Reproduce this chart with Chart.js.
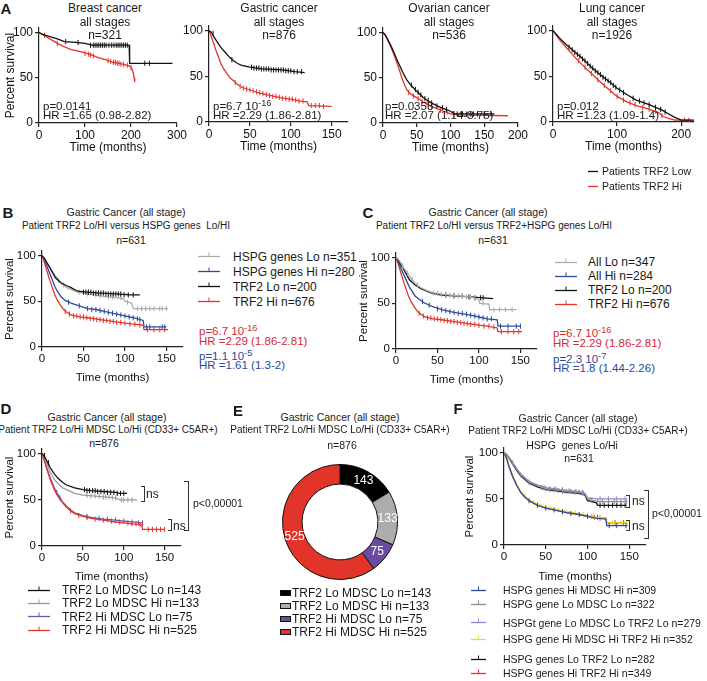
<!DOCTYPE html>
<html>
<head>
<title>TRF2 survival figure</title>
<script src="https://cdn.jsdelivr.net/npm/chart.js"></script>
<style>
  body { margin: 0; background: #fff; font-family: "Liberation Sans", Arial, sans-serif; color: #1a1a1a; }
  #fig { position: relative; width: 707px; height: 681px; overflow: hidden; }
  #fig canvas { position: absolute; }
  .t { position: absolute; white-space: nowrap; font-size: 11px; line-height: 1; }
  .c { transform: translate(-50%, -50%); text-align: center; }
  .l { transform: translateY(-50%); }
  .big { font-weight: bold; font-size: 15px; }
  .red { color: #d42a33; }
  .blue { color: #2b4a9b; }
  .br { position: absolute; border: 1.2px solid #333; border-left: none; box-sizing: border-box; }
  sup { font-size: 80%; vertical-align: 4px; line-height: 0; }
</style>
</head>
<body>
<div id="fig"></div>

<script>
// ---------- data ----------
// A: breast
const brLo  = [[0,100],[8,98],[20,96],[40,93],[55,90],[80,89],[100,88],[115,86],[196,86],[197,66],[290,66]];
const brLoC = [[58,90],[85,89],[112,86],[118,86],[122,86],[126,86],[130,86],[134,86],[138,86],[142,86],[146,86],[152,86],[158,86],[163,86],[168,86],[172,86],[176,86],[180,86],[184,86],[188,86],[192,86],[230,66],[240,66]];
const brHi  = [[0,100],[10,97],[17,95],[30,91],[40,88],[52,85],[70,81],[90,79],[110,76],[130,72],[145,70],[160,67],[175,66],[190,64],[198,63],[202,60],[205,55],[207,50],[208,45]];
const brHiC = [[12,97],[40,88],[100,77],[108,76],[112,75],[118,74],[150,69],[156,68],[162,67],[166,67],[170,66],[174,66],[178,65],[184,65],[192,64],[200,61]];
// A: gastric
const gaLo  = [[0,100],[3,98],[6,93],[9,89],[12,85],[15,81],[20,76],[25,71],[30,67],[35,64],[40,62],[50,60],[65,58],[90,57],[105,55],[117,54]];
const gaLoC = [[5,97],[28,68],[52,60],[55,59],[58,59],[61,59],[64,58],[67,58],[70,58],[73,58],[76,57],[79,57],[82,57],[85,57],[88,57],[91,57],[94,56],[97,56],[100,56],[104,55],[108,55],[113,55]];
const gaHi  = [[0,100],[3,93],[6,85],[9,77],[12,70],[15,63],[18,58],[22,53],[26,48],[30,45],[35,41],[40,38],[50,35],[60,32],[70,30],[80,28],[90,26],[100,25],[110,23],[120,22],[122,18],[150,17]];
const gaHiC = [[32,43],[38,39],[42,37],[46,36],[50,35],[54,34],[58,33],[62,32],[66,31],[70,30],[74,29],[78,28],[82,28],[86,27],[90,26],[94,26],[98,25],[102,25],[106,24],[110,23],[115,23],[125,18],[130,18],[135,18],[140,17]];
// A: ovarian
const ovLo  = [[0,100],[3,98],[6,94],[10,88],[15,80],[20,71],[25,63],[30,55],[35,48],[40,43],[45,39],[50,35],[60,28],[70,23],[80,19],[90,16],[100,13],[106,10],[165,10]];
const ovLoC = [[42,42],[48,37],[52,34],[56,31],[62,27],[67,25],[72,22],[80,19],[88,17],[94,15],[110,10],[118,10],[124,10],[130,10],[134,10],[140,10],[150,10],[160,10]];
const ovHi  = [[0,100],[3,97],[6,93],[10,87],[15,78],[20,68],[25,57],[28,50],[32,42],[36,36],[40,33],[45,30],[50,28],[60,23],[70,19],[80,16],[90,13],[100,10],[110,9],[185,8]];
const ovHiC = [[38,34],[45,30],[52,27],[58,24],[65,21],[72,18],[85,14],[95,12],[105,9],[125,9],[150,8]];
// A: lung
const luLo  = [[0,100],[5,96],[10,92],[20,85],[30,79],[45,70],[60,60],[75,51],[90,43],[100,37],[115,30],[130,24],[150,19],[170,13],[180,9],[190,5],[200,2],[220,2]];
const luLoC = [[25,82],[30,79],[34,76],[38,74],[42,72],[46,69],[50,67],[54,64],[58,61],[62,59],[66,56],[70,54],[74,52],[78,49],[82,47],[86,45],[90,43],[94,40],[98,38],[104,35],[110,32],[125,26],[135,23],[142,21],[150,19],[160,16],[168,14],[175,11]];
const luHi  = [[0,100],[5,95],[10,90],[20,82],[30,74],[45,63],[60,53],[75,43],[90,34],[100,28],[115,22],[130,18],[150,14],[165,10],[172,6],[180,4],[190,2],[215,2]];
const luHiC = [[40,67],[50,60],[60,53],[70,46],[80,40],[90,34],[100,28],[110,24],[120,21],[128,19],[140,16],[150,14],[160,12],[170,7],[205,2],[212,2]];

// B
const bGrey  = [[0,100],[3,97],[6,92],[10,86],[16,78],[23,70],[30,65],[35,63],[43,60],[55,58],[75,55],[90,54],[98,53],[100,50],[108,48],[110,42],[152,42]];
const bGreyC = [[20,73],[26,68],[45,60],[55,58],[65,57],[70,56],[80,55],[85,55],[95,54],[103,49],[115,42],[120,42],[125,42],[130,42],[135,42],[142,42],[145,42],[150,42]];
const bBlue  = [[0,100],[3,95],[6,88],[10,79],[16,65],[20,59],[23,55],[28,51],[35,48],[45,45],[55,42],[65,41],[75,39],[90,36],[100,34],[110,32],[122,29],[123,22],[150,22]];
const bBlueC = [[32,49],[45,45],[55,42],[60,41],[65,41],[70,40],[75,39],[80,38],[85,37],[90,36],[95,35],[100,34],[105,33],[110,32],[115,31],[118,30],[126,22],[130,22],[145,22],[148,22]];
const bBlack  = [[0,100],[3,97],[6,92],[10,86],[16,76],[23,70],[30,67],[35,65],[43,61],[55,60],[70,59],[90,58],[105,57],[118,57]];
const bBlackC = [[50,60],[53,60],[56,60],[59,60],[62,59],[65,59],[68,59],[71,59],[74,59],[77,58],[80,58],[83,58],[86,58],[89,58],[92,58],[95,58],[99,57],[104,57],[110,57]];
const bRed  = [[0,100],[3,92],[6,83],[9,74],[12,66],[15,58],[18,52],[22,46],[26,41],[30,38],[35,35],[45,33],[55,32],[70,30],[85,28],[100,26],[110,25],[122,24],[123,19],[152,19]];
const bRedC = [[28,39],[33,36],[38,34],[42,34],[46,33],[50,33],[54,32],[58,31],[62,31],[66,30],[70,30],[74,29],[78,29],[82,28],[86,28],[90,27],[95,27],[100,26],[106,25],[112,25],[118,24],[127,19],[135,19],[142,19],[148,19]];

// C
const cGrey  = [[0,100],[3,98],[6,94],[10,88],[16,80],[23,72],[30,67],[35,65],[43,62],[55,60],[75,58],[90,57],[100,54],[101,50],[112,49],[113,43],[145,43]];
const cGreyC = [[8,91],[14,83],[20,76],[26,70],[45,61],[50,61],[55,60],[60,60],[65,59],[70,59],[75,58],[80,58],[85,57],[90,57],[95,56],[105,50],[118,43],[125,43],[132,43],[140,43]];
const cBlue  = [[0,100],[3,95],[6,88],[10,80],[16,68],[23,58],[30,53],[35,50],[45,46],[55,43],[70,40],[90,37],[100,35],[110,33],[122,32],[123,25],[150,25]];
const cBlueC = [[32,52],[40,48],[50,44],[55,43],[60,42],[65,41],[70,40],[75,39],[80,39],[85,38],[90,37],[95,36],[100,35],[105,34],[110,33],[115,33],[126,25],[135,25],[145,25],[150,25]];
const cBlack  = [[0,100],[3,97],[6,92],[10,86],[16,76],[23,70],[30,66],[35,64],[43,61],[55,59],[70,58],[90,57],[105,56],[117,55]];
const cBlackC = [[60,59],[70,58],[80,58],[88,57],[95,56],[102,56],[105,56]];
const cRed  = [[0,100],[3,92],[6,83],[9,74],[12,66],[15,58],[18,52],[22,46],[26,41],[30,38],[35,35],[45,33],[55,32],[70,30],[85,28],[100,26],[110,25],[122,23],[123,19],[152,19]];
const cRedC = [[28,39],[33,36],[38,34],[42,34],[46,33],[50,33],[54,32],[58,31],[62,31],[66,30],[70,30],[74,29],[78,29],[82,28],[86,28],[90,27],[95,27],[100,26],[106,25],[112,25],[118,24],[127,19],[135,19],[142,19],[148,19]];

// D
const dBlack  = [[0,100],[3,97],[6,92],[10,85],[15,78],[20,73],[25,69],[30,66],[40,63],[50,61],[60,60],[75,59],[90,58],[95,57],[104,57]];
const dBlackC = [[3,98],[8,90],[52,61],[55,60],[58,60],[62,60],[65,60],[68,59],[72,59],[76,59],[80,58],[84,58],[88,58],[92,57],[96,57],[100,57]];
const dGrey  = [[0,100],[3,96],[6,89],[10,80],[15,72],[20,67],[25,63],[30,61],[40,57],[50,55],[65,54],[80,53],[90,52],[95,50],[116,50]];
const dGreyC = [[55,55],[60,54],[65,54],[70,54],[75,53],[78,53],[82,53],[86,52],[90,52],[97,50],[100,50],[105,50],[110,50]];
const dPurp  = [[0,100],[3,93],[6,84],[10,74],[15,63],[20,55],[25,48],[30,43],[35,39],[40,36],[50,33],[60,31],[75,29],[90,28],[100,27],[123,25]];
const dPurpC = [[18,58],[22,52],[55,32],[70,30],[80,29],[90,28],[100,27],[110,26],[118,25],[123,25]];
const dRed  = [[0,100],[3,92],[6,83],[10,72],[15,61],[20,53],[25,47],[30,42],[35,38],[40,35],[50,32],[60,30],[75,28],[90,26],[100,25],[110,24],[122,23],[123,18],[150,18]];
const dRedC = [[35,38],[45,33],[55,31],[65,29],[75,28],[85,27],[95,26],[105,25],[110,24],[115,24],[120,23],[130,18],[135,18],[140,18],[145,18],[150,18]];

// E (doughnut)
const eLabels = ['TRF2 Lo MDSC Lo n=143', 'TRF2 Lo MDSC Hi n=133', 'TRF2 Hi MDSC Lo n=75', 'TRF2 Hi MDSC Hi n=525'];
const eValues = [143, 133, 75, 525];

// F
const fBlue  = [[0,100],[3,94],[6,85],[10,75],[15,65],[20,57],[25,52],[30,48],[40,43],[50,40],[60,38],[75,35],[90,33],[100,31],[110,29],[122,28],[123,21],[148,21]];
const fBlueC = [[30,48],[40,43],[50,40],[60,38],[70,36],[80,34],[90,33],[100,31],[126,21],[135,21],[146,21]];
const fGrey  = [[0,100],[3,98],[6,94],[10,89],[15,82],[20,76],[25,72],[30,68],[40,64],[50,61],[60,60],[75,58],[90,57],[97,55],[100,50],[112,47],[147,47]];
const fGreyC = [[10,89],[20,76],[30,68],[45,62],[50,61],[55,60],[60,60],[65,59],[70,58],[75,58],[80,58],[85,57],[90,57],[95,56],[104,49],[112,47],[118,47],[125,47],[132,47],[140,47],[147,47]];
const fPurp  = [[0,100],[3,98],[6,95],[10,90],[15,83],[20,77],[25,73],[30,69],[40,65],[50,62],[60,61],[75,59],[90,58],[97,56],[100,51],[112,50],[147,50]];
const fPurpC = [[48,62],[55,61],[62,61],[70,60],[78,59],[86,58],[94,57],[115,50],[125,50],[135,50],[145,50]];
const fYel  = [[0,100],[3,95],[6,86],[10,76],[15,66],[20,58],[25,53],[30,49],[40,44],[50,41],[60,39],[75,36],[90,34],[100,32],[110,30],[122,29],[123,24],[147,24]];
const fYelC = [[25,53],[35,46],[45,42],[55,40],[65,38],[75,36],[85,35],[95,33],[105,31],[115,30],[130,24],[140,24],[147,24]];
const fBlack  = [[0,100],[3,98],[6,94],[10,88],[15,81],[20,75],[25,71],[30,67],[40,63],[50,60],[60,59],[75,57],[90,56],[97,54],[100,48],[110,46],[112,43],[147,43]];
const fBlackC = [[115,43],[120,43],[125,43],[130,43],[135,43],[140,43],[145,43]];
const fRed  = [[0,100],[3,94],[6,85],[10,75],[15,65],[20,57],[25,52],[30,48],[40,43],[50,40],[60,38],[75,35],[90,33],[100,31],[110,30],[122,29],[123,24],[147,24]];
const fRedC = [[105,31],[108,30],[112,30],[115,29],[133,24],[143,24]];

const RED = '#e3342a', BLACK = '#111', LGREY = '#acacac', BLUE = '#2c4b9c',
      PURP = '#6d55a6', GREY = '#8c8c8c', LPURP = '#9c86d2', YEL = '#eedc2a';
const FAM = '"Liberation Sans", Arial, sans-serif';
const fig = document.getElementById('fig');

function put(x, y, html, cls, css) {
  const d = document.createElement('div');
  d.className = 't ' + (cls || 'c');
  d.style.left = x + 'px';
  d.style.top = y + 'px';
  if (css) d.style.cssText += css;
  d.innerHTML = html;
  fig.appendChild(d);
  return d;
}

// legend line with a small censor tick in the middle
function sym(x1, x2, y, color, tick) {
  const w = x2 - x1;
  const tk = tick === false ? '' : `<line x1="${w / 2}" y1="0.5" x2="${w / 2}" y2="4.5" stroke="${color}" stroke-width="1"/>`;
  put(x1, y - 4.5, `<svg width="${w}" height="7"><line x1="0" y1="4.5" x2="${w}" y2="4.5" stroke="${color}" stroke-width="1.3"/>${tk}</svg>`, 'l', 'transform:none;line-height:0');
}

function bracket(x, y1, y2, w) {
  const b = document.createElement('div');
  b.className = 'br';
  b.style.cssText += `left:${x}px;top:${y1}px;width:${w}px;height:${y2 - y1}px`;
  fig.appendChild(b);
}

// Kaplan-Meier style panel. g = pixel geometry of the axes.
function km(g, curves, o) {
  const yMax = 105;
  const yTop = g.y0 - (g.y0 - g.y100) * yMax / 100;
  const pt = 10, pr = o.pr || 6;
  const cv = document.createElement('canvas');
  cv.width = Math.round(o.wy + (g.xr - g.x0) + pr);
  cv.height = Math.round(pt + (g.y0 - yTop) + o.hx);
  cv.style.left = Math.round(g.x0 - o.wy) + 'px';
  cv.style.top = Math.round(yTop - pt) + 'px';
  fig.appendChild(cv);

  const ds = [];
  curves.forEach(cu => {
    ds.push({ data: cu.c.map(p => ({ x: p[0], y: p[1] })), showLine: false, pointStyle: 'line',
              rotation: 90, pointRadius: 2.6, borderColor: cu.col, borderWidth: 1 });
    ds.push({ data: cu.d.map(p => ({ x: p[0], y: p[1] })), borderColor: cu.col, borderWidth: 1.3,
              pointRadius: 0, tension: 0, fill: false });
  });

  const tickFont = { family: FAM, size: o.fs };
  const axisGrid = { drawOnChartArea: false, drawTicks: true, tickLength: 4, color: '#222', lineWidth: 1.2 };
  new Chart(cv, {
    type: 'line',
    data: { datasets: ds },
    options: {
      responsive: false, animation: false, devicePixelRatio: 1, events: [],
      layout: { padding: { top: pt, right: pr, left: 0, bottom: 0 } },
      plugins: { legend: { display: false }, tooltip: { enabled: false } },
      scales: {
        x: {
          type: 'linear', min: 0, max: o.xMax,
          border: { color: '#222', width: 1.2 }, grid: axisGrid,
          ticks: { stepSize: o.xStep, includeBounds: false, padding: 1, color: '#111', font: tickFont, maxRotation: 0, autoSkip: false },
          title: { display: true, text: 'Time (months)', padding: 0, color: '#111', font: { family: FAM, size: o.fs } },
          afterFit: s => { s.height = o.hx; }
        },
        y: {
          type: 'linear', min: 0, max: yMax,
          border: { color: '#222', width: 1.2 }, grid: axisGrid,
          ticks: { stepSize: 50, includeBounds: false, padding: 2, color: '#111', font: tickFont },
          title: { display: !!o.ytitle, text: 'Percent survival', padding: 0, color: '#111', font: { family: FAM, size: o.fs } },
          afterFit: s => { s.width = o.wy; }
        }
      }
    }
  });
}

// ---------- panel A ----------
put(6, 8, 'A', 'c big');
const aOpt = { wy: 36, hx: 32, fs: 12 };
km({ x0: 39, xr: 177, y0: 122, y100: 32 }, [
  { d: brLo, c: brLoC, col: BLACK }, { d: brHi, c: brHiC, col: RED }
], Object.assign({ xMax: 300, xStep: 100, ytitle: true, pr: 12 }, aOpt));
km({ x0: 209, xr: 348, y0: 122, y100: 31 }, [
  { d: gaLo, c: gaLoC, col: BLACK }, { d: gaHi, c: gaHiC, col: RED }
], Object.assign({ xMax: 170, xStep: 50 }, aOpt));
km({ x0: 383, xr: 523, y0: 122, y100: 32 }, [
  { d: ovLo, c: ovLoC, col: BLACK }, { d: ovHi, c: ovHiC, col: RED }
], Object.assign({ xMax: 200, xStep: 50 }, aOpt));
km({ x0: 553, xr: 694, y0: 122, y100: 31 }, [
  { d: luLo, c: luLoC, col: BLACK }, { d: luHi, c: luHiC, col: RED }
], Object.assign({ xMax: 220, xStep: 100 }, aOpt));

const aTitles = [[105, 'Breast cancer', 'n=321'], [279, 'Gastric cancer', 'n=876'], [449, 'Ovarian cancer', 'n=536'], [612, 'Lung cancer', 'n=1926']];
aTitles.forEach(t => {
  put(t[0], 8, t[1], 'c', 'font-size:12px');
  put(t[0], 22, 'all stages', 'c', 'font-size:12px');
  put(t[0], 35, t[2], 'c', 'font-size:12px');
});
const aStats = [[43, 'p=0.0141', 'HR =1.65 (0.98-2.82)'], [213, 'p=6.7 10<sup>-16</sup>', 'HR =2.29 (1.86-2.81)'],
                [385, 'p=0.0358', 'HR =2.07 (1.14-3.75)'], [557, 'p=0.012', 'HR =1.23 (1.09-1.4)']];
aStats.forEach(s => {
  put(s[0], 107, s[1], 'l', 'font-size:11.5px');
  put(s[0], 115.5, s[2], 'l', 'font-size:11.5px');
});
sym(588, 598, 171, BLACK, false); put(602, 171, 'Patients TRF2 Low', 'l', 'font-size:10.5px');
sym(588, 598, 186, RED, false);   put(602, 186, 'Patients TRF2 Hi', 'l', 'font-size:10.5px');

// ---------- panel B ----------
put(8, 212, 'B', 'c big');
put(126, 212, 'Gastric Cancer (all stage)', 'c', 'font-size:10.5px');
put(126, 226, 'Patient TRF2 Lo/HI versus HSPG genes&nbsp; Lo/HI', 'c', 'font-size:10px');
put(131, 240, 'n=631', 'c', 'font-size:10.5px');
const bOpt = { wy: 39, hx: 38, fs: 11.5, xMax: 170, xStep: 50, ytitle: true };
km({ x0: 42, xr: 183, y0: 347, y100: 256 }, [
  { d: bBlack, c: bBlackC, col: BLACK }, { d: bGrey, c: bGreyC, col: LGREY },
  { d: bRed, c: bRedC, col: RED }, { d: bBlue, c: bBlueC, col: BLUE }
], bOpt);
const bLegend = ['HSPG genes Lo n=351', 'HSPG genes Hi n=280', 'TRF2 Lo n=200', 'TRF2 Hi n=676'];
const bCols = [LGREY, BLUE, BLACK, RED];
bLegend.forEach((t, i) => {
  const y = 256.5 + i * 15;
  sym(198, 220, y, bCols[i]);
  put(233, y, t, 'l', 'font-size:12px');
});
put(199, 331.5, 'p=6.7 10<sup>-16</sup>', 'l red', 'font-size:11.5px');
put(199, 341.5, 'HR =2.29 (1.86-2.81)', 'l red', 'font-size:11.5px');
put(199, 357, 'p=1.1 10<sup>-5</sup>', 'l blue', 'font-size:11.5px');
put(199, 366, 'HR =1.61 (1.3-2)', 'l blue', 'font-size:11.5px');

// ---------- panel C ----------
put(368, 212, 'C', 'c big');
put(488, 212, 'Gastric Cancer (all stage)', 'c', 'font-size:10.5px');
put(494, 226, 'Patient TRF2 Lo/HI versus TRF2+HSPG genes Lo/HI', 'c', 'font-size:10px');
put(493, 240, 'n=631', 'c', 'font-size:10.5px');
km({ x0: 396, xr: 537, y0: 349, y100: 258 }, [
  { d: cGrey, c: cGreyC, col: LGREY }, { d: cBlack, c: cBlackC, col: BLACK },
  { d: cBlue, c: cBlueC, col: BLUE }, { d: cRed, c: cRedC, col: RED }
], bOpt);
const cLegend = ['All Lo n=347', 'All Hi n=284', 'TRF2 Lo n=200', 'TRF2 Hi n=676'];
cLegend.forEach((t, i) => {
  const y = 262 + i * 14;
  sym(555, 577, y, bCols[i]);
  put(588, y, t, 'l', 'font-size:12px');
});
put(553, 334, 'p=6.7 10<sup>-16</sup>', 'l red', 'font-size:11.5px');
put(553, 343.5, 'HR =2.29 (1.86-2.81)', 'l red', 'font-size:11.5px');
put(553, 359.5, 'p=2.3 10<sup>-7</sup>', 'l blue', 'font-size:11.5px');
put(553, 368.5, 'HR =1.8 (1.44-2.26)', 'l blue', 'font-size:11.5px');

// ---------- panel D ----------
put(6, 408, 'D', 'c big');
put(107, 417, 'Gastric Cancer (all stage)', 'c', 'font-size:10.5px');
put(108, 429.5, 'Patient TRF2 Lo/Hi MDSC Lo/Hi (CD33+ C5AR+)', 'c', 'font-size:10px');
put(104, 443, 'n=876', 'c', 'font-size:10.5px');
km({ x0: 42, xr: 181, y0: 546, y100: 454 }, [
  { d: dBlack, c: dBlackC, col: BLACK }, { d: dGrey, c: dGreyC, col: '#9a9a9a' },
  { d: dRed, c: dRedC, col: RED }, { d: dPurp, c: dPurpC, col: PURP }
], { wy: 39, hx: 38, fs: 11.5, xMax: 170, xStep: 50, ytitle: true });
const dLegend = ['TRF2 Lo MDSC Lo n=143', 'TRF2 Lo MDSC Hi n=133', 'TRF2 Hi MDSC Lo n=75', 'TRF2 Hi MDSC Hi n=525'];
const dCols = [BLACK, '#9a9a9a', PURP, RED];
dLegend.forEach((t, i) => {
  const y = 590 + i * 13.4;
  sym(28, 50, y, dCols[i]);
  put(62, y, t, 'l', 'font-size:12px');
});
bracket(141, 486, 502, 4); put(146, 494, 'ns', 'l', 'font-size:12px');
bracket(168, 519, 531, 4); put(173, 525.5, 'ns', 'l', 'font-size:12px');
bracket(184, 481, 531, 5); put(193, 503, 'p&lt;0,00001', 'l', 'font-size:10.5px');

// ---------- panel E ----------
put(238, 410, 'E', 'c big');
put(340, 417, 'Gastric Cancer (all stage)', 'c', 'font-size:10.5px');
put(340, 429.5, 'Patient TRF2 Lo/Hi MDSC Lo/Hi (CD33+ C5AR+)', 'c', 'font-size:10px');
put(342, 445, 'n=876', 'c', 'font-size:10.5px');
const eCols = ['#000000', '#acacac', '#6a4ba0', RED];
const eCanvas = document.createElement('canvas');
eCanvas.width = 118; eCanvas.height = 118;
eCanvas.style.left = '281px'; eCanvas.style.top = '463px';
fig.appendChild(eCanvas);
const donutLabels = {
  id: 'donutLabels',
  afterDatasetsDraw(chart) {
    const ctx = chart.ctx;
    chart.getDatasetMeta(0).data.forEach((arc, i) => {
      const p = arc.tooltipPosition();
      ctx.save();
      ctx.fillStyle = '#fff';
      ctx.font = '12px ' + FAM;
      ctx.textAlign = 'center';
      ctx.textBaseline = 'middle';
      ctx.fillText(String(eValues[i]), p.x, p.y);
      ctx.restore();
    });
  }
};
new Chart(eCanvas, {
  type: 'doughnut',
  data: { labels: eLabels, datasets: [{ data: eValues, backgroundColor: eCols, borderColor: '#111', borderWidth: 1 }] },
  options: {
    responsive: false, animation: false, devicePixelRatio: 1, events: [], cutout: '66%',
    layout: { padding: 1 },
    plugins: { legend: { display: false }, tooltip: { enabled: false } }
  },
  plugins: [donutLabels]
});
eLabels.forEach((t, i) => {
  const y = 592.5 + i * 13.2;
  put(280, y, '', 'l', `width:9px;height:4px;background:${eCols[i]};border:1px solid #111`);
  put(292, y, t, 'l', 'font-size:12px');
});

// ---------- panel F ----------
put(458, 408, 'F', 'c big');
put(578, 418, 'Gastric Cancer (all stage)', 'c', 'font-size:10.5px');
put(578, 430.5, 'Patient TRF2 Lo/Hi MDSC Lo/Hi (CD33+ C5AR+)', 'c', 'font-size:10px');
put(572, 445, 'HSPG&nbsp; genes Lo/Hi', 'c', 'font-size:10.5px');
put(579, 458, 'n=631', 'c', 'font-size:10.5px');
km({ x0: 504, xr: 646, y0: 545, y100: 453 }, [
  { d: fGrey, c: fGreyC, col: GREY }, { d: fPurp, c: fPurpC, col: LPURP }, { d: fBlack, c: fBlackC, col: BLACK },
  { d: fBlue, c: fBlueC, col: BLUE }, { d: fYel, c: fYelC, col: YEL }, { d: fRed, c: fRedC, col: RED }
], { wy: 41, hx: 39, fs: 11.5, xMax: 170, xStep: 50, ytitle: true });
const fLegend = ['HSPG genes Hi MDSC Hi n=309', 'HSPG gene Lo MDSC Lo n=322', 'HSPGt gene Lo MDSC Lo TRF2 Lo n=279',
                 'HSPG gene Hi MDSC Hi TRF2 Hi n=352', 'HSPG genes Lo TRF2 Lo n=282', 'HSPG genes Hi TRF2 Hi n=349'];
const fCols = [BLUE, GREY, LPURP, YEL, BLACK, RED];
const fRows = [590, 604, 622.5, 639, 659, 673];
fLegend.forEach((t, i) => {
  sym(471, 486, fRows[i], fCols[i]);
  put(503, fRows[i], t, 'l', 'font-size:10.5px');
});
bracket(626, 495, 508, 4); put(632, 501, 'ns', 'l', 'font-size:12px');
bracket(626, 520, 531, 4); put(632, 525.5, 'ns', 'l', 'font-size:12px');
bracket(644, 490, 539, 5); put(652, 513, 'p&lt;0,00001', 'l', 'font-size:10.5px');
</script>
</body>
</html>
